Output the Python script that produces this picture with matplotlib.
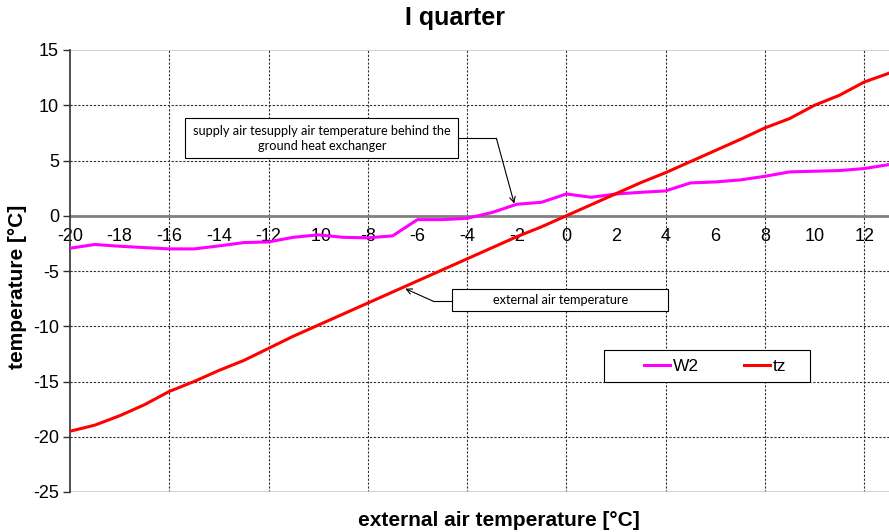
import numpy as np
import matplotlib
matplotlib.use("Agg")
import matplotlib.pyplot as plt
from matplotlib.patches import Rectangle

plt.rcParams['font.family'] = ['Liberation Sans', 'DejaVu Sans']
plt.rcParams['axes.unicode_minus'] = False

# outside temperature steps (x axis)
t_ext = np.arange(-20, 14)

w2 = [-2.94, -2.6, -2.76, -2.88, -3.0, -3.0, -2.73, -2.43, -2.37, -1.95,
      -1.73, -1.95, -2.0, -1.82, -0.35, -0.35, -0.23, 0.29, 1.04, 1.22,
      1.97, 1.67, 1.97, 2.12, 2.25, 2.97, 3.06, 3.24, 3.57, 3.97,
      4.03, 4.09, 4.27, 4.63]
tz = [-19.5, -18.95, -18.1, -17.1, -15.9, -15.0, -14.0, -13.1, -12.0, -10.9,
      -9.9, -8.9, -7.9, -6.9, -5.9, -4.9, -3.9, -2.9, -1.9, -1.0,
      0.0, 1.0, 2.0, 3.0, 3.9, 4.9, 5.9, 6.9, 7.95, 8.8,
      10.0, 10.9, 12.1, 12.9]

note_w2 = "supply air tesupply air temperature behind the\nground heat exchanger"
note_tz = "external air temperature"

fig = plt.figure(figsize=(8.89, 5.32), dpi=100)
ax = fig.add_axes([70/889, 1-492/532, 819/889, 442/532])

ax.set_xlim(-20, 13)
ax.set_ylim(-25, 15)

# grid
grid_kw = dict(color='#303030', lw=0.8, ls=(0, (2, 1.5)), zorder=1)
for gx in np.arange(-16, 13, 4):
    ax.axvline(gx, **grid_kw)
for gy in [-20, -15, -10, -5, 5, 10]:
    ax.axhline(gy, **grid_kw)
ax.axhline(15, color='#c8c8c8', lw=1.2, zorder=1)
ax.axhline(-25, color='#c8c8c8', lw=1.2, zorder=1)

ax.plot(t_ext, w2, color='#FF00FF', lw=2.2, label='W2', zorder=3)
ax.plot(t_ext, tz, color='#FF0000', lw=2.2, label='tz', zorder=3)

# spines
ax.spines['top'].set_visible(False)
ax.spines['right'].set_visible(False)
ax.spines['bottom'].set_position(('data', 0))
ax.spines['bottom'].set_color('#808080')
ax.spines['bottom'].set_linewidth(2)
ax.spines['bottom'].set_zorder(2)
ax.spines['left'].set_color('#303030')
ax.spines['left'].set_linewidth(1.2)

ax.set_xticks(np.arange(-20, 13, 2))
ax.set_yticks(np.arange(-25, 16, 5))
ax.tick_params(axis='x', length=0, pad=9, labelsize=13)
ax.tick_params(axis='y', length=5, width=1, direction='out', pad=3,
               labelsize=13, color='#303030')

# annotations
note_font = ['Lato', 'DejaVu Sans']
ax.add_patch(Rectangle((-15.36, 5.2), 11.01, 3.62, fc='white', ec='black',
                       lw=0.8, zorder=5))
ax.text(-9.85, 7.01, note_w2, ha='center', va='center', fontsize=9.2,
        family=note_font, zorder=6, linespacing=1.25)
ax.plot([-4.35, -2.82], [7.01, 7.01], color='black', lw=0.8, zorder=5)
ax.annotate('', xy=(-2.1, 1.1), xytext=(-2.82, 7.01),
            arrowprops=dict(arrowstyle='->', color='black', lw=0.8,
                            shrinkA=0, shrinkB=0), zorder=5)

ax.add_patch(Rectangle((-4.6, -8.64), 8.71, 1.99, fc='white', ec='black',
                       lw=0.8, zorder=5))
ax.text(-0.25, -7.65, note_tz, ha='center', va='center', fontsize=9.2,
        family=note_font, zorder=6)
ax.plot([-4.6, -5.36], [-7.74, -7.74], color='black', lw=0.8, zorder=5)
ax.annotate('', xy=(-6.49, -6.6), xytext=(-5.36, -7.74),
            arrowprops=dict(arrowstyle='->', color='black', lw=0.8,
                            shrinkA=0, shrinkB=0), zorder=5)

# legend
ax.add_patch(Rectangle((0.652, 0.2495), 0.2515, 0.0717, transform=ax.transAxes,
                       fc='white', ec='black', lw=0.8, zorder=5, clip_on=False))
leg = ax.legend(loc='center left', bbox_to_anchor=(0.7009, 0.285), ncol=2,
                frameon=False, borderpad=0, borderaxespad=0, fontsize=12.5,
                handlelength=1.5, handletextpad=0.15, columnspacing=2.6)
leg.set_zorder(6)

fig.text(455/889, 1-18/532, 'I quarter', ha='center', va='center',
         fontsize=18, fontweight='bold')
fig.text(499/889, 1-520/532, 'external air temperature [°C]', ha='center',
         va='center', fontsize=15, fontweight='bold')
fig.text(18/889, 1-287/532, 'temperature [°C]', ha='center', va='center',
         rotation=90, fontsize=15, fontweight='bold')

fig.savefig('out.png', dpi=100)
